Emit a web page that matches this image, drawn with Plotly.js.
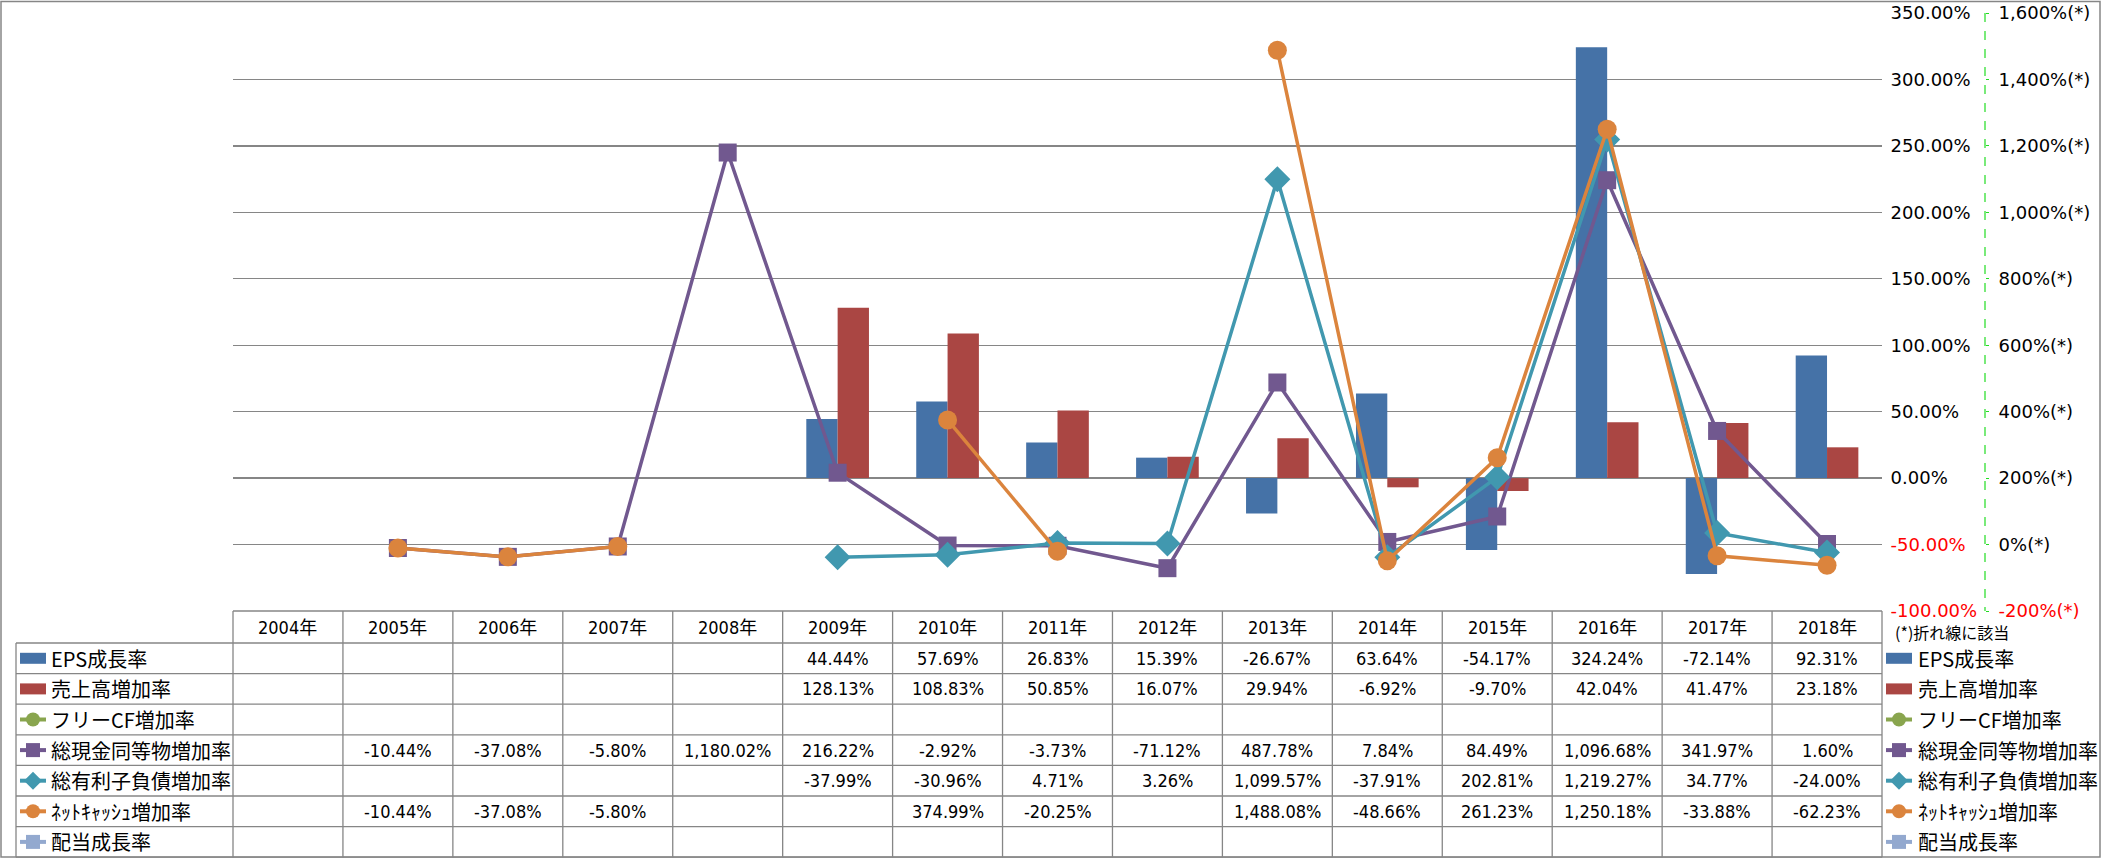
<!DOCTYPE html>
<html><head><meta charset="utf-8">
<script src="https://cdn.plot.ly/plotly-3.0.1.min.js"></script>
<style>html,body{margin:0;padding:0;background:#fff;overflow:hidden}</style>
</head><body><div id="chart" style="width:2101px;height:858px"></div>
<script>
// ---------- data ----------
const years = ['2004年','2005年','2006年','2007年','2008年','2009年','2010年','2011年','2012年','2013年','2014年','2015年','2016年','2017年','2018年'];
const seriesNames = ['EPS成長率','売上高増加率','フリーCF増加率','総現金同等物増加率','総有利子負債増加率','ﾈｯﾄｷｬｯｼｭ増加率','配当成長率'];
const epsGrowth   = [null,null,null,null,null,44.44,57.69,26.83,15.39,-26.67,63.64,-54.17,324.24,-72.14,92.31];
const salesGrowth = [null,null,null,null,null,128.13,108.83,50.85,16.07,29.94,-6.92,-9.70,42.04,41.47,23.18];
const freeCfGrowth = [null,null,null,null,null,null,null,null,null,null,null,null,null,null,null];
const cashGrowth  = [null,-10.44,-37.08,-5.80,1180.02,216.22,-2.92,-3.73,-71.12,487.78,7.84,84.49,1096.68,341.97,1.60];
const debtGrowth  = [null,null,null,null,null,-37.99,-30.96,4.71,3.26,1099.57,-37.91,202.81,1219.27,34.77,-24.00];
const netCashGrowth = [null,-10.44,-37.08,-5.80,null,null,374.99,-20.25,null,1488.08,-48.66,261.23,1250.18,-33.88,-62.23];
const dividendGrowth = [null,null,null,null,null,null,null,null,null,null,null,null,null,null,null];

const leftTickVals = [-100,-50,0,50,100,150,200,250,300,350];
const leftTickLabels = ['-100.00%','-50.00%','0.00%','50.00%','100.00%','150.00%','200.00%','250.00%','300.00%','350.00%'];
const rightTickVals = [-200,0,200,400,600,800,1000,1200,1400,1600];
const rightTickLabels = ['-200%(*)','0%(*)','200%(*)','400%(*)','600%(*)','800%(*)','1,000%(*)','1,200%(*)','1,400%(*)','1,600%(*)'];
const noteText = '(*)折れ線に該当';

// ---------- styles ----------
const colors = ['#4572A7','#AA4643','#89A54E','#71588F','#4198AF','#DB843D','#93A9CF'];
const kinds  = ['bar','bar','circle','square','diamond','circle','square'];
const seriesData = [epsGrowth, salesGrowth, freeCfGrowth, cashGrowth, debtGrowth, netCashGrowth, dividendGrowth];

const W=2101, H=858;
const plotL=233, plotR=1882, axis2X=1985, plotT=13, plotB=611;
const headB=643, rowH=30.6, tblL=16;
const pw = axis2X-plotL, ph = plotB-plotT;
const px = x => (x-plotL)/pw;
const py = y => (plotB-y)/ph;
const colW = (plotR-plotL)/years.length;
const gridCol = '#868686';
const tableFont = {family:"'DejaVu Sans Condensed','Liberation Sans Narrow','Noto Sans CJK JP'", size:18, color:'#000'};
const jpFont = {family:"'Noto Sans CJK JP'", size:20, color:'#000'};
const axisFont = {family:"'DejaVu Sans'", size:18, color:'#000'};

const red = (v,t) => v<0 ? '<span style="color:#FF0000">'+t+'</span>' : t;

// ---------- traces ----------
const traces = [];
seriesData.forEach((d,i)=>{
  if(kinds[i]==='bar'){
    traces.push({type:'bar', name:seriesNames[i], x:years, y:d, marker:{color:colors[i]}, yaxis:'y', xaxis:'x', hoverinfo:'skip'});
  }
});
seriesData.forEach((d,i)=>{
  if(kinds[i]!=='bar'){
    const sz = kinds[i]==='diamond'?20:(kinds[i]==='square'?18:19);
    traces.push({type:'scatter', mode:'lines+markers', name:seriesNames[i], x:years, y:d, yaxis:'y2', xaxis:'x',
      connectgaps:false, line:{color:colors[i], width:3.5},
      marker:{symbol:kinds[i], size:sz, color:colors[i], line:{width:0}}, hoverinfo:'skip', cliponaxis:false});
  }
});

// ---------- table shapes & text ----------
const shapes = [];
const ann = [];
const L = (x0,y0,x1,y1,c,w,dash)=>shapes.push({type:'line',xref:'paper',yref:'paper',x0:px(x0),y0:py(y0),x1:px(x1),y1:py(y1),line:{color:c||gridCol,width:w||1.3,dash:dash||'solid'}});

// outer border
shapes.push({type:'rect',xref:'paper',yref:'paper',x0:px(1),y0:py(1.5),x1:px(2100),y1:py(857),line:{color:gridCol,width:1.5},layer:'below'});
// table grid
L(plotL,plotB,plotR,plotB);
for(let k=0;k<=seriesNames.length;k++){ const y=headB+k*rowH; L(tblL,y,plotR,y); }
L(tblL,headB,tblL,headB+seriesNames.length*rowH);
for(let i=0;i<=years.length;i++){ const x=plotL+i*colW; L(x,plotB,x,headB+seriesNames.length*rowH); }
// green dashed secondary axis line
L(axis2X,plotT,axis2X,plotB,'#22DD22',1.2,'dash');

// header years
years.forEach(y=>ann.push({xref:'x',yref:'paper',x:y,y:py((plotB+headB)/2),text:y,showarrow:false,font:tableFont,xanchor:'center',yanchor:'middle'}));

const fmt = v => v.toLocaleString('en-US',{minimumFractionDigits:2,maximumFractionDigits:2})+'%';
seriesData.forEach((d,r)=>{
  const cy = headB+(r+0.5)*rowH;
  d.forEach((v,i)=>{ if(v!==null) ann.push({xref:'x',yref:'paper',x:years[i],y:py(cy),text:fmt(v),showarrow:false,font:tableFont,xanchor:'center',yanchor:'middle'}); });
  [[20,49],[1886,1916]].forEach(([ix,tx])=>{
    ann.push({xref:'paper',yref:'paper',x:px(tx),y:py(cy),text:seriesNames[r],showarrow:false,font:jpFont,xanchor:'left',yanchor:'middle'});
    const c = colors[r];
    if(kinds[r]==='bar'){
      shapes.push({type:'rect',xref:'paper',yref:'paper',x0:px(ix),x1:px(ix+26),y0:py(cy-5.5),y1:py(cy+5.5),fillcolor:c,line:{width:0}});
    } else {
      L(ix,cy,ix+26,cy,c,4);
      const mx=ix+13, s=kinds[r];
      if(s==='circle') shapes.push({type:'circle',xref:'paper',yref:'paper',x0:px(mx-7),x1:px(mx+7),y0:py(cy-7),y1:py(cy+7),fillcolor:c,line:{width:0}});
      else if(s==='square') shapes.push({type:'rect',xref:'paper',yref:'paper',x0:px(mx-7),x1:px(mx+7),y0:py(cy-7),y1:py(cy+7),fillcolor:c,line:{width:0}});
      else shapes.push({type:'path',xref:'paper',yref:'paper',path:`M ${px(mx-9)} ${py(cy)} L ${px(mx)} ${py(cy-9)} L ${px(mx+9)} ${py(cy)} L ${px(mx)} ${py(cy+9)} Z`,fillcolor:c,line:{width:0}});
    }
  });
});
ann.push({xref:'paper',yref:'paper',x:px(1893),y:py(632),text:noteText,showarrow:false,font:{family:"'Noto Sans CJK JP'",size:16,color:'#000'},xanchor:'left',yanchor:'middle'});

const layout = {
  width:W, height:H, paper_bgcolor:'#fff', plot_bgcolor:'rgba(0,0,0,0)',
  margin:{l:plotL, r:W-axis2X, t:plotT, b:H-plotB, pad:0},
  showlegend:false, barmode:'group', bargap:0.43, bargroupgap:0,
  xaxis:{type:'category', domain:[0,(plotR-plotL)/pw], range:[-0.5,years.length-0.5], showticklabels:false, showgrid:false, zeroline:false, showline:false, ticks:''},
  yaxis:{range:[-100,350], side:'right', anchor:'x', tickvals:leftTickVals, ticktext:leftTickVals.map((v,i)=>red(v,leftTickLabels[i])),
    showgrid:true, gridcolor:gridCol, gridwidth:1.3, zeroline:false, showline:false, ticks:'outside', ticklen:4, tickcolor:'rgba(0,0,0,0)', tickfont:axisFont},
  yaxis2:{range:[-200,1600], overlaying:'y', side:'right', anchor:'free', position:1, tickvals:rightTickVals, ticktext:rightTickVals.map((v,i)=>red(v,rightTickLabels[i])),
    showgrid:false, zeroline:false, showline:false, ticks:'outside', ticklen:3, tickcolor:'#22DD22', tickwidth:1, ticklabelstandoff:6, tickfont:axisFont},
  shapes:shapes, annotations:ann
};
Plotly.newPlot('chart', traces, layout, {displayModeBar:false, staticPlot:true});
</script></body></html>
